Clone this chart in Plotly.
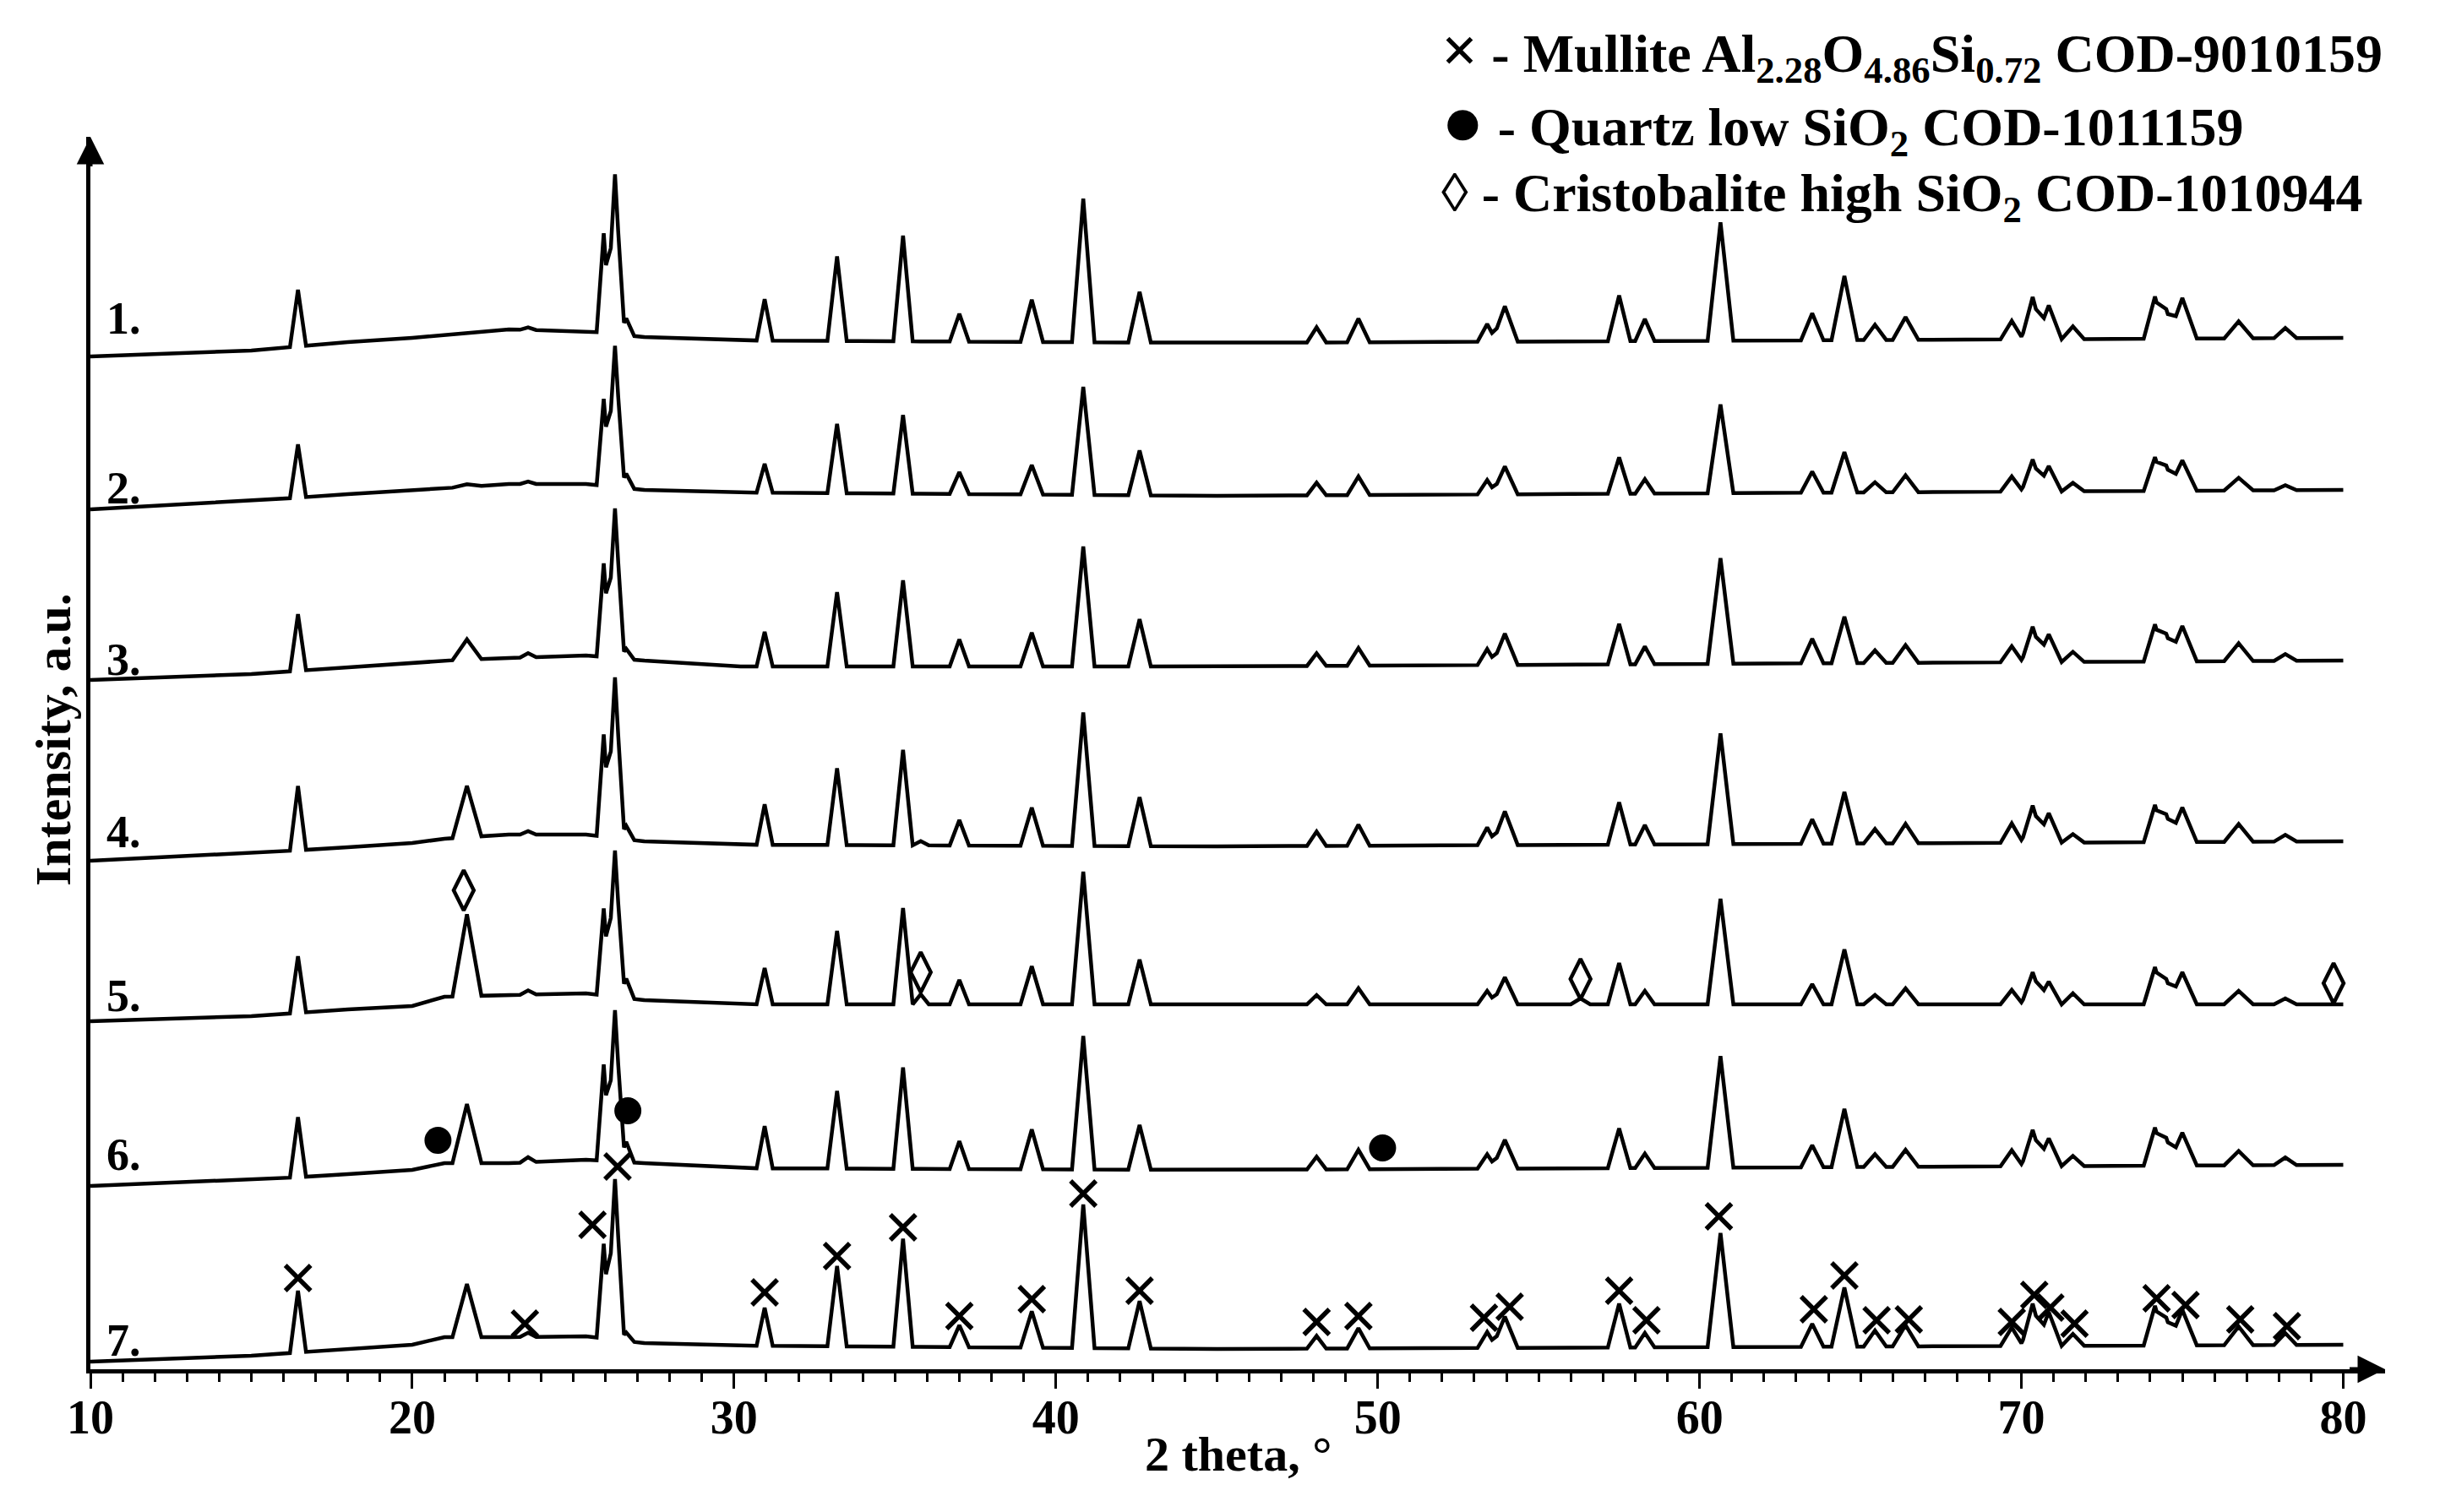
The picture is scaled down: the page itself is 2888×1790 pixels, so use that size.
import numpy as np
import plotly.graph_objects as go

# 2 theta positions of the diffraction peaks (deg) and half base width of each peak
peak_pos = [16.45, 21.7, 23.6, 25.95, 26.3, 26.65, 30.95, 33.2, 35.25, 35.8,
            37.0, 39.25, 40.85, 42.6, 48.1, 49.4, 53.4, 53.95, 56.3, 57.5,
            58.3, 60.65, 63.5, 64.5, 65.45, 66.4, 69.7, 70.35, 70.85, 71.6,
            74.15, 74.5, 75.0, 76.75, 78.2]
peak_hw = [0.25, 0.45, 0.25, 0.22, 0.28, 0.25, 0.25, 0.3, 0.3, 0.25,
           0.3, 0.35, 0.35, 0.35, 0.3, 0.35, 0.3, 0.4, 0.3, 0.35,
           0.3, 0.4, 0.35, 0.4, 0.35, 0.4, 0.35, 0.35, 0.4, 0.35,
           0.35, 0.3, 0.45, 0.45, 0.35]

# peak heights above background for each sample (a.u.)
heights_1 = [67, 0, 3, 118, 189, 20, 49, 100, 125, 0, 33, 50, 170, 60, 18, 28, 21, 42, 0, 54,
             26, 140, 32, 76, 18, 27, 22, 50, 40, 15, 50, 35, 48, 20, 12]
heights_2 = [63, 3, 3, 103, 167, 17, 34, 82, 93, 0, 26, 35, 128, 53, 15, 22, 17, 33, 0, 43,
             17, 105, 25, 48, 12, 20, 18, 38, 30, 10, 40, 30, 36, 15, 6]
heights_3 = [67, 24, 5, 111, 177, 12, 41, 88, 102, 0, 32, 40, 142, 56, 15, 21, 19, 37, 0, 48,
             21, 125, 29, 55, 15, 21, 19, 42, 33, 12, 44, 33, 42, 21, 8]
heights_4 = [76, 61, 4, 121, 190, 16, 48, 91, 113, 5, 30, 45, 158, 58, 17, 25, 21, 40, 0, 50,
             23, 131, 29, 61, 17, 23, 23, 44, 35, 10, 44, 33, 41, 21, 8]
heights_5 = [67, 97, 5, 103, 173, 23, 43, 87, 114, 12, 29, 45, 157, 53, 11, 19, 16, 32, 7, 49,
             16, 125, 24, 65, 11, 19, 17, 38, 27, 13, 44, 30, 38, 16, 7]
heights_6 = [71, 70, 6, 114, 179, 24, 50, 92, 120, 0, 33, 47, 158, 53, 15, 23, 17, 34, 0, 47,
             17, 132, 26, 69, 15, 20, 19, 43, 33, 12, 45, 33, 39, 17, 9]
heights_7 = [73, 63, 5, 112, 190, 10, 45, 95, 128, 0, 26, 43, 170, 56, 15, 24, 19, 37, 0, 52,
             17, 135, 27, 70, 19, 25, 22, 50, 40, 14, 47, 33, 42, 22, 14]

# background (stacked offset + amorphous hump) read at these 2 theta values
base_x = [10, 15, 18, 20, 21, 23, 25.4, 27.2, 30.2, 45, 80]
base_1 = [1199, 1206, 1216, 1221, 1224, 1231, 1229, 1222, 1218, 1215, 1221]
base_2 = [1018, 1028, 1036, 1041, 1043, 1048, 1048, 1041, 1038, 1034, 1041]
base_3 = [816, 823, 831, 836, 839, 842, 845, 839, 832, 832, 839]
base_4 = [602, 611, 618, 623, 628, 633, 633, 625, 621, 619, 625]
base_5 = [412, 418, 426, 430, 441, 443, 445, 437, 432, 432, 432]
base_6 = [217, 224, 231, 236, 244, 244, 248, 244, 238, 236, 242]
base_7 = [9, 16, 24, 29, 38, 38, 39, 31, 28, 24, 29]

sample_labels = ["1.", "2.", "3.", "4.", "5.", "6.", "7."]
label_y = [1244, 1043, 840, 636, 442, 254, 34]

# phase markers
mullite_x = [16.45, 23.5, 25.6, 26.38, 30.95, 33.2, 35.25, 37.0, 39.25, 40.85, 42.6,
             48.1, 49.4, 53.3, 54.1, 57.5, 58.35, 60.6, 63.55, 64.5, 65.5, 66.5,
             69.7, 70.4, 70.9, 71.65, 74.2, 75.1, 76.8, 78.25]
mullite_y = [108, 54, 171, 240, 91, 134, 168, 63, 83, 208, 93,
             56, 63, 61, 74, 93, 58, 181, 71, 111, 58, 59,
             56, 88, 73, 54, 84, 76, 59, 51]
quartz_x = [20.8, 26.7, 50.15]
quartz_y = [271, 306, 262]
cristobalite_x = [21.6, 35.8, 56.3, 79.7]
cristobalite_y = [567, 470, 462, 457]

legend_lines = [
    "<span style='font-size:76px'>×</span> - Mullite Al<sub>2.28</sub>O<sub>4.86</sub>Si<sub>0.72</sub> COD-9010159",
    "<span style='font-size:84px'>●</span> - Quartz low SiO<sub>2</sub> COD-1011159",
    "◊ - Cristobalite high SiO<sub>2</sub> COD-1010944",
]
legend_y = [1.068, 1.011, 0.951]

FONT = "Liberation Serif"


def pattern(heights, base_y):
    # polyline through background points and the foot/apex of every peak
    xs = set(base_x) | set(peak_pos)
    for p, w in zip(peak_pos, peak_hw):
        xs.update([p - w, p + w])
    xs = np.array(sorted(v for v in xs if 10 <= v <= 80))
    ys = np.interp(xs, base_x, base_y)
    for p, w, h in zip(peak_pos, peak_hw, heights):
        ys = ys + h * np.clip(1 - np.abs(xs - p) / w, 0, None)
    return xs, ys


fig = go.Figure()

all_heights = [heights_1, heights_2, heights_3, heights_4, heights_5, heights_6, heights_7]
all_bases = [base_1, base_2, base_3, base_4, base_5, base_6, base_7]
for name, h, b in zip(sample_labels, all_heights, all_bases):
    x, y = pattern(h, b)
    fig.add_trace(go.Scatter(x=x, y=y, mode="lines", name=name,
                             line=dict(color="black", width=4.5)))

fig.add_trace(go.Scatter(x=mullite_x, y=mullite_y, mode="markers", name="Mullite",
                         marker=dict(symbol="x-thin", size=30, color="black",
                                     line=dict(color="black", width=5.5))))
fig.add_trace(go.Scatter(x=quartz_x, y=quartz_y, mode="markers", name="Quartz",
                         marker=dict(symbol="circle", size=32, color="black")))
fig.add_trace(go.Scatter(x=cristobalite_x, y=cristobalite_y, mode="markers", name="Cristobalite",
                         marker=dict(symbol="diamond-tall-open", size=34, color="black",
                                     line=dict(color="black", width=4.5))))

for lab, ly in zip(sample_labels, label_y):
    fig.add_annotation(x=10.45, y=ly, text=lab, showarrow=False, xanchor="left", yanchor="middle",
                       font=dict(family=FONT, size=54, color="black", weight="bold"))

for line, ly in zip(legend_lines, legend_y):
    fig.add_annotation(xref="paper", yref="paper", x=0.588, y=ly,
                       text=line, showarrow=False, xanchor="left", yanchor="middle",
                       font=dict(family=FONT, size=64, color="black", weight="bold"))

# axis titles
fig.add_annotation(xref="paper", yref="paper", x=-0.016, y=0.511, text="Intensity, a.u.",
                   textangle=-90, showarrow=False, xanchor="center", yanchor="middle",
                   font=dict(family=FONT, size=60, color="black", weight="bold"))
fig.add_annotation(xref="paper", yref="paper", x=0.5, y=-0.069, text="2 theta, °",
                   showarrow=False, xanchor="center", yanchor="middle",
                   font=dict(family=FONT, size=58, color="black", weight="bold"))

# axis arrows
fig.add_annotation(x=10, y=1459, ax=0, ay=45, showarrow=True, arrowhead=2, arrowsize=1.3,
                   arrowwidth=5, arrowcolor="black", text=" ")
fig.add_annotation(x=81.3, y=0, ax=-45, ay=0, showarrow=True, arrowhead=2, arrowsize=1.3,
                   arrowwidth=5, arrowcolor="black", text=" ")

# the page body adds an 8px margin, so the figure is drawn 16px smaller
fig.update_layout(
    width=2872, height=1774,
    margin=dict(l=99, r=57, t=154, b=161),
    plot_bgcolor="white", paper_bgcolor="white",
    showlegend=False,
    xaxis=dict(
        range=[10, 81.3], showline=True, linewidth=5, linecolor="black",
        showgrid=False, zeroline=False,
        tickvals=list(range(10, 81, 10)), ticks="outside", ticklen=18, tickwidth=3,
        tickcolor="black", ticklabelstandoff=-14,
        minor=dict(tickvals=list(range(10, 81)), ticks="outside", ticklen=10, tickwidth=3,
                   tickcolor="black", showgrid=False),
        tickfont=dict(family=FONT, size=56, color="black", weight="bold"),
    ),
    yaxis=dict(
        range=[0, 1459], showline=True, linewidth=5, linecolor="black",
        showgrid=False, zeroline=False, showticklabels=False, ticks="",
    ),
)

fig.write_html("out.html")
